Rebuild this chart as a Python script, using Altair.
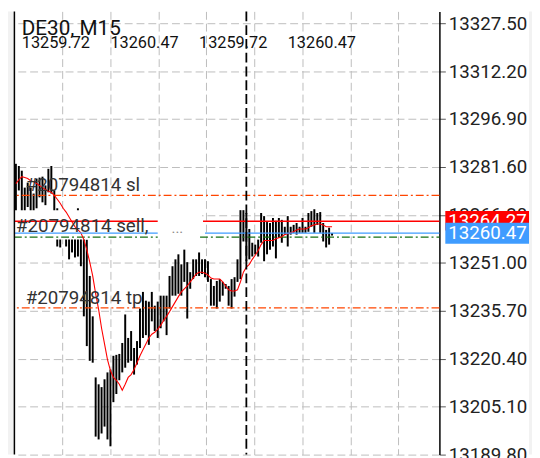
import altair as alt
import pandas as pd

# ---------------- data ----------------
bar_high = [13282.6, 13281.9, 13280.4, 13275.0, 13276.6, 13275.0, 13273.1, 13277.9, 13278.2, 13278.5,
            13275.7, 13281.0, 13281.9, 13274.1, 13268.4, 13267.2, 13264.7, 13261.5, 13260.6, 13262.2,
            13259.3, 13268.4, 13261.5, 13259.3, 13258.4, 13246.8, 13233.9, 13214.4, 13212.2, 13211.3,
            13213.8, 13216.0, 13216.9, 13221.3, 13221.6, 13221.9, 13225.4, 13234.5, 13227.0, 13229.2,
            13223.8, 13226.0, 13236.4, 13241.7, 13238.9, 13238.6, 13241.7, 13237.3, 13238.6, 13240.5,
            13240.5, 13240.5, 13246.8, 13249.9, 13252.1, 13253.7, 13250.5, 13255.2, 13251.2, 13248.0,
            13252.1, 13252.1, 13254.3, 13252.1, 13252.1, 13251.5, 13245.8, 13243.6, 13245.2, 13245.8,
            13244.9, 13244.2, 13243.6, 13245.8, 13246.4, 13252.1, 13267.8, 13267.8, 13266.9, 13261.8,
            13257.4, 13256.8, 13258.4, 13266.9, 13265.9, 13264.0, 13263.7, 13265.3, 13264.4, 13265.3,
            13264.7, 13262.5, 13265.9, 13262.5, 13263.1, 13263.7, 13262.5, 13265.3, 13262.5, 13266.9,
            13267.5, 13268.1, 13266.9, 13267.2, 13263.7, 13261.5, 13262.2, 13260.5]
bar_low = [13266.9, 13274.1, 13267.2, 13266.9, 13268.8, 13266.2, 13265.6, 13268.4, 13271.9, 13270.3,
           13269.4, 13273.5, 13273.1, 13260.0, 13256.2, 13255.9, 13259.3, 13256.2, 13252.1, 13254.3,
           13252.7, 13253.0, 13249.9, 13233.9, 13224.4, 13219.7, 13219.1, 13195.5, 13194.6, 13196.5,
           13198.7, 13194.6, 13192.4, 13206.5, 13209.1, 13213.5, 13216.0, 13217.5, 13219.1, 13219.7,
           13215.3, 13218.5, 13223.8, 13227.0, 13227.9, 13224.8, 13232.3, 13229.2, 13227.0, 13230.1,
           13232.3, 13227.9, 13236.4, 13240.5, 13240.5, 13241.1, 13240.5, 13244.9, 13233.2, 13242.7,
           13245.8, 13246.8, 13246.8, 13247.4, 13246.4, 13244.9, 13237.3, 13237.3, 13236.4, 13238.6,
           13240.5, 13242.7, 13237.3, 13236.4, 13240.2, 13244.9, 13245.8, 13257.8, 13251.5, 13252.1,
           13253.0, 13253.7, 13253.0, 13257.4, 13251.5, 13253.7, 13255.2, 13256.2, 13252.4, 13259.0,
           13257.4, 13260.0, 13256.2, 13260.0, 13260.6, 13260.0, 13260.6, 13260.6, 13260.6, 13260.9,
           13262.5, 13260.6, 13263.1, 13260.6, 13257.8, 13255.9, 13256.8, 13259.7]
ma_values = [13276.3, 13277.5, 13278.5, 13278.2, 13277.9, 13277.2, 13276.9, 13276.3, 13275.7, 13275.0,
             13274.4, 13273.8, 13273.5, 13272.5, 13271.3, 13270.0, 13268.4, 13267.2, 13265.6, 13264.0,
             13262.5, 13261.5, 13260.6, 13258.4, 13255.2, 13251.2, 13246.8, 13241.1, 13236.1, 13230.1,
             13225.1, 13220.1, 13216.6, 13214.4, 13213.5, 13212.2, 13210.3, 13212.2, 13214.4, 13215.3,
             13216.9, 13219.1, 13221.3, 13223.2, 13225.1, 13227.0, 13228.2, 13228.8, 13229.8, 13231.0,
             13232.6, 13233.9, 13235.4, 13237.0, 13238.6, 13240.2, 13241.7, 13242.7, 13243.6, 13244.9,
             13246.1, 13247.4, 13248.0, 13248.0, 13247.7, 13247.1, 13246.1, 13245.8, 13245.8, 13245.8,
             13244.9, 13243.6, 13242.4, 13242.0, 13242.0, 13242.4, 13244.9, 13248.0, 13249.6, 13250.5,
             13252.1, 13253.4, 13254.9, 13256.8, 13258.1, 13258.1, 13258.1, 13258.1, 13258.7, 13259.0,
             13259.3, 13260.0, 13260.3, 13260.6, 13260.9, 13261.5, 13261.8, 13261.8, 13261.8, 13262.2,
             13262.8, 13263.1, 13263.4, 13263.4, 13263.1, 13262.5, 13262.5, 13262.5]

y_ticks = [13327.50, 13312.20, 13296.90, 13281.60, 13266.30, 13251.00,
           13235.70, 13220.40, 13205.10, 13189.80]
x_grid = [15.67, 32.0, 48.33, 64.33, 80.67, 97.0, 113.33, 129.33]
cursor_bar = [78]

ask_price = 13264.27
bid_price = 13260.47
sl_price = 13272.5
tp_price = 13236.6
open_price = 13259.2
order_id = "#20794814"
title_text = "DE30, M15"
ohlc_text = ["13259.72", "13260.47", "13259.72", "13260.47"]

# ---------------- scales / axes ----------------
X_DOM = [-2 / 3, 143 + 1 / 3]
Y_DOM = [13189.75, 13331.27]
xs = alt.Scale(domain=X_DOM, nice=False, zero=False)
ys = alt.Scale(domain=Y_DOM, nice=False, zero=False)

GRID = "#bdbdbd"
x_axis = alt.Axis(values=x_grid, grid=True, gridDash=[8, 4], gridColor=GRID, gridWidth=1,
                  labels=False, ticks=False, domain=False, title=None)
y_axis = alt.Axis(orient="right", values=y_ticks, format=".2f", grid=True, gridDash=[8, 4],
                  gridColor=GRID, gridWidth=1, labelFont="Roboto", labelFontSize=19,
                  labelColor="#222222", tickColor="#555555", tickSize=6, labelPadding=3,
                  domainColor="#000000", domainWidth=1.5, title=None, labelOverlap=False)


def X(field):
    return alt.X(field, scale=xs, axis=x_axis, title=None)


def Y(field):
    return alt.Y(field, scale=ys, axis=y_axis, title=None)


bars = pd.DataFrame({"i": list(range(len(bar_high))), "high": bar_high,
                     "low": bar_low, "ma": ma_values})

# ---------------- layers ----------------
base_bars = alt.Chart(bars)

bar_layer = base_bars.mark_rule(color="#000000", strokeWidth=2).encode(
    x=X("i:Q"), y=Y("high:Q"), y2="low:Q")

ma_layer = base_bars.mark_line(color="#ff0000", strokeWidth=1.1).encode(
    x=X("i:Q"), y=Y("ma:Q"))

# white area behind the order label (hides grid there)
gap_df = pd.DataFrame({"x0": [X_DOM[0]], "x1": [63.0], "top": [13267.8], "bot": [13258.4]})
gap_layer = alt.Chart(gap_df).mark_rect(color="#ffffff").encode(
    x=X("x0:Q"), x2="x1:Q", y=Y("top:Q"), y2="bot:Q")

# stop loss / take profit dash-dot lines
sltp_df = pd.DataFrame({"p": [sl_price, tp_price]})
sltp_layer = alt.Chart(sltp_df).mark_rule(color="#ff4500", strokeWidth=1.3,
                                          strokeDash=[8, 3, 2, 3]).encode(y=Y("p:Q"))


def seg_df(price, gap_start, gap_end):
    return pd.DataFrame({"x0": [X_DOM[0], gap_end], "x1": [gap_start, X_DOM[1]],
                         "p": [price, price]})


open_layer = alt.Chart(seg_df(open_price, 48.0, 62.33)).mark_rule(
    color="#157015", strokeWidth=1.3, strokeDash=[8, 3, 2, 3]).encode(
    x=X("x0:Q"), x2="x1:Q", y=Y("p:Q"))
ask_layer = alt.Chart(seg_df(ask_price, 48.0, 63.33)).mark_rule(
    color="#ff0000", strokeWidth=1.7).encode(x=X("x0:Q"), x2="x1:Q", y=Y("p:Q"))
bid_layer = alt.Chart(seg_df(bid_price, 48.0, 64.0)).mark_rule(
    color="#3f9cff", strokeWidth=1.5).encode(x=X("x0:Q"), x2="x1:Q", y=Y("p:Q"))

# cursor (black dashed vertical)
cursor_layer = alt.Chart(pd.DataFrame({"c": cursor_bar})).mark_rule(
    color="#000000", strokeWidth=1.8, strokeDash=[10, 4]).encode(x=X("c:Q"))

# order labels
lab_rows = [
    (order_id + " sl", sl_price, 3.33, -5),
    (order_id + " sell,", open_price, 0.0, -5),
    (order_id + " tp", tp_price, 3.33, -4),
]
lab_layers = []
for t, p, xo, dy in lab_rows:
    lab_layers.append(
        alt.Chart(pd.DataFrame({"t": [t], "p": [p], "xo": [xo]})).mark_text(
            font="Roboto", fontSize=19, color="#333333", align="left",
            baseline="alphabetic", dy=dy).encode(x=X("xo:Q"), y=Y("p:Q"), text="t:N"))
dots_layer = alt.Chart(pd.DataFrame({"t": ["..."], "xo": [52.67], "p": [bid_price]})).mark_text(
    font="Roboto", fontSize=15, color="#8a8a8a", align="left", baseline="alphabetic").encode(
    x=X("xo:Q"), y=Y("p:Q"), text="t:N")

# price boxes on the right
box_df = pd.DataFrame({
    "top": [ask_price + 3.3, bid_price + 3.3],
    "bot": [ask_price - 3.0, bid_price - 3.4],
    "mid": [ask_price, bid_price - 0.1],
    "t": [f"{ask_price:.2f}", f"{bid_price:.2f}"],
    "c": ["#ff0000", "#3f9cff"],
})
box_layers = []
for k in range(2):
    d = box_df.iloc[[k]]
    box_layers.append(alt.Chart(d).mark_rect(color=d["c"].iloc[0]).encode(
        x=alt.value(438), x2=alt.value(523), y=Y("top:Q"), y2="bot:Q"))
    box_layers.append(alt.Chart(d).mark_text(
        font="Roboto", fontSize=19, color="#ffffff", align="left", baseline="middle").encode(
        x=alt.value(441), y=Y("mid:Q"), text="t:N"))

# side strips and left border
strip_layer = alt.Chart(pd.DataFrame({"a": [0]})).mark_rect(color="#f2f2f2").encode(
    x=alt.value(-6), x2=alt.value(0), y=alt.value(0), y2=alt.value(450))
strip_r_layer = alt.Chart(pd.DataFrame({"a": [0]})).mark_rect(color="#f2f2f2").encode(
    x=alt.value(523), x2=alt.value(526), y=alt.value(0), y2=alt.value(450))
border_layer = alt.Chart(pd.DataFrame({"a": [0]})).mark_rule(color="#000000", strokeWidth=1.5).encode(
    x=alt.value(0.5), y=alt.value(0), y2=alt.value(450))

# title lines
title_layer = alt.Chart(pd.DataFrame({"t": [title_text]})).mark_text(
    font="Roboto", fontSize=21, color="#111111", align="left", baseline="alphabetic").encode(
    x=alt.value(8), y=alt.value(24), text="t:N")
ohlc_layers = []
for k, t in enumerate(ohlc_text):
    ohlc_layers.append(alt.Chart(pd.DataFrame({"t": [t]})).mark_text(
        font="Roboto", fontSize=16.5, color="#111111", align="left", baseline="alphabetic").encode(
        x=alt.value(8 + 90 * k), y=alt.value(37), text="t:N"))

chart = alt.layer(
    bar_layer, gap_layer, sltp_layer, open_layer, ma_layer, ask_layer, bid_layer,
    cursor_layer, *lab_layers, dots_layer, *box_layers,
    strip_layer, strip_r_layer, border_layer, title_layer, *ohlc_layers,
).properties(
    width=432, height=450,
    padding={"left": 6, "right": 94, "top": 0, "bottom": 0},
    autosize="none",
    background="#ffffff",
).configure_view(stroke=None)

chart.save("out.html", embed_options={"renderer": "svg", "actions": False})
